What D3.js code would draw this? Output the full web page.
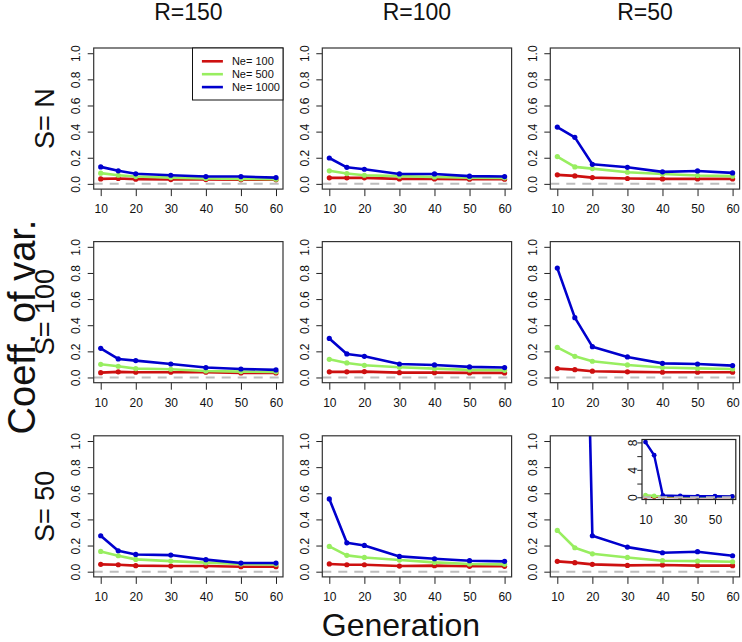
<!DOCTYPE html>
<html>
<head>
<meta charset="utf-8">
<script src="https://cdn.jsdelivr.net/npm/d3@7"></script>
<style>
  html, body { margin: 0; padding: 0; background: #fff; }
  svg { display: block; font-family: "Liberation Sans", Arial, Helvetica, sans-serif; }
</style>
</head>
<body>
<svg id="chart" width="742" height="642"></svg>
<script>
// ---------------- DATA ----------------
const generations = [10, 15, 20, 30, 40, 50, 60];
const xTickValues = [10, 20, 30, 40, 50, 60];
const yTickValues = [0, 0.2, 0.4, 0.6, 0.8, 1.0];
const insetYTicks = [0, 2, 4, 6, 8];
const insetYLabels = [0, 4, 8];
const insetXLabels = [10, 30, 50];
const colTitles = ["R=150", "R=100", "R=50"];
const rowTitles = ["S= N", "S= 100", "S= 50"];
const seriesNames = ["Ne= 100", "Ne= 500", "Ne= 1000"];
const seriesColors = ["#cd1010", "#98ee60", "#0000cd"];

// each panel: [Ne=100, Ne=500, Ne=1000]
const sN_r150 = [
  [0.038, 0.041, 0.036, 0.033, 0.033, 0.031, 0.031],
  [0.082, 0.066, 0.056, 0.048, 0.041, 0.038, 0.036],
  [0.130, 0.100, 0.077, 0.066, 0.056, 0.056, 0.048]
];
const sN_r100 = [
  [0.046, 0.046, 0.046, 0.038, 0.038, 0.036, 0.036],
  [0.100, 0.079, 0.066, 0.059, 0.053, 0.048, 0.046],
  [0.198, 0.127, 0.112, 0.076, 0.076, 0.059, 0.056]
];
const sN_r50 = [
  [0.069, 0.061, 0.048, 0.041, 0.038, 0.038, 0.038],
  [0.209, 0.130, 0.117, 0.089, 0.076, 0.064, 0.059],
  [0.435, 0.356, 0.150, 0.127, 0.092, 0.099, 0.084]
];
const s100_r150 = [
  [0.037, 0.043, 0.040, 0.040, 0.040, 0.035, 0.035],
  [0.101, 0.086, 0.068, 0.063, 0.050, 0.045, 0.043],
  [0.223, 0.142, 0.129, 0.103, 0.076, 0.065, 0.058]
];
const s100_r100 = [
  [0.043, 0.043, 0.045, 0.037, 0.037, 0.035, 0.035],
  [0.139, 0.111, 0.093, 0.078, 0.068, 0.058, 0.055],
  [0.299, 0.180, 0.162, 0.103, 0.096, 0.081, 0.076]
];
const s100_r50 = [
  [0.068, 0.060, 0.048, 0.043, 0.040, 0.040, 0.040],
  [0.230, 0.162, 0.124, 0.096, 0.076, 0.070, 0.065],
  [0.837, 0.458, 0.236, 0.157, 0.108, 0.103, 0.091]
];
const s50_r150 = [
  [0.056, 0.053, 0.046, 0.043, 0.043, 0.038, 0.038],
  [0.155, 0.122, 0.094, 0.081, 0.069, 0.059, 0.056],
  [0.275, 0.160, 0.132, 0.127, 0.092, 0.066, 0.066]
];
const s50_r100 = [
  [0.059, 0.053, 0.053, 0.043, 0.046, 0.041, 0.041],
  [0.193, 0.125, 0.109, 0.089, 0.071, 0.059, 0.056],
  [0.557, 0.221, 0.201, 0.117, 0.099, 0.084, 0.079]
];
const s50_r50 = [
  [0.079, 0.069, 0.056, 0.048, 0.051, 0.046, 0.046],
  [0.316, 0.183, 0.137, 0.109, 0.084, 0.081, 0.076],
  [8.05, 6.13, 0.275, 0.188, 0.145, 0.153, 0.122]
];
const panels = [
  [sN_r150, sN_r100, sN_r50],
  [s100_r150, s100_r100, s100_r50],
  [s50_r150, s50_r100, s50_r50]
];

// ---------------- LAYOUT ----------------
const svg = d3.select("#chart");
const FONT = 12;
const LEGEND_FONT = 11;
const colLeft = [93.7, 322.3, 550.3];
const plotW = 189.3;
const rowTop = [48.0, 241.6, 435.8];
const plotH = 141.1;

function fmtY(d) { return d3.format(".1f")(d); }

function drawSeries(g, data, x, y, lw, r) {
  const line = d3.line().x((d, i) => x(generations[i])).y(d => y(d));
  data.forEach((vals, si) => {
    g.append("path")
      .attr("d", line(vals))
      .attr("fill", "none")
      .attr("stroke", seriesColors[si])
      .attr("stroke-width", lw)
      .attr("stroke-linejoin", "round");
    g.selectAll(null).data(vals).enter().append("circle")
      .attr("cx", (d, i) => x(generations[i]))
      .attr("cy", d => y(d))
      .attr("r", r)
      .attr("fill", seriesColors[si]);
  });
}

function styleAxis(ax) {
  ax.select(".domain").remove();
  ax.selectAll("line").attr("stroke", "#222").attr("stroke-width", 1);
  ax.selectAll("text").attr("font-size", FONT).attr("fill", "#111")
    .attr("font-family", '"Liberation Sans", Arial, sans-serif');
}

let clipId = 0;
for (let r = 0; r < 3; r++) {
  for (let c = 0; c < 3; c++) {
    const L = colLeft[c], T = rowTop[r];
    const x = d3.scaleLinear().domain([8, 62]).range([L, L + plotW]);
    const y = d3.scaleLinear().domain([-0.04, 1.04]).range([T + plotH, T]);

    const cid = "clip" + (clipId++);
    svg.append("clipPath").attr("id", cid).append("rect")
      .attr("x", L).attr("y", T).attr("width", plotW).attr("height", plotH);

    const g = svg.append("g").attr("clip-path", `url(#${cid})`);
    drawSeries(g, panels[r][c], x, y, 2.6, 2.6);
    // reference dashed line at 0
    g.append("line")
      .attr("x1", L).attr("x2", L + plotW)
      .attr("y1", y(0)).attr("y2", y(0))
      .attr("stroke", "#bdbdbd").attr("stroke-width", 2)
      .attr("stroke-dasharray", "9,7");

    // x axis
    const ax = svg.append("g").attr("transform", `translate(0,${T + plotH})`)
      .call(d3.axisBottom(x).tickValues(xTickValues).tickSize(7).tickPadding(8.5).tickSizeOuter(0));
    styleAxis(ax);

    // y axis
    const ay = svg.append("g").attr("transform", `translate(${L},0)`)
      .call(d3.axisLeft(y).tickValues(yTickValues).tickFormat(fmtY).tickSize(6).tickSizeOuter(0));
    styleAxis(ay);
    ay.selectAll("text")
      .attr("x", 0).attr("dy", "0.35em").attr("text-anchor", "middle")
      .attr("transform", "translate(-17.5,0) rotate(-90)");

    // box
    svg.append("rect").attr("x", L).attr("y", T).attr("width", plotW).attr("height", plotH)
      .attr("fill", "none").attr("stroke", "#333").attr("stroke-width", 1.2);
  }
}

// ---------------- LEGEND (panel 1) ----------------
{
  const L = colLeft[0], T = rowTop[0];
  const lx = L + plotW - 90.5, lw = 90.5, lh = 52;
  const lg = svg.append("g");
  lg.append("rect").attr("x", lx).attr("y", T).attr("width", lw).attr("height", lh)
    .attr("fill", "#fff").attr("stroke", "#111").attr("stroke-width", 1);
  seriesNames.forEach((name, i) => {
    const yy = T + 13.3 + i * 12.9;
    lg.append("line").attr("x1", lx + 9.4).attr("x2", lx + 30.4)
      .attr("y1", yy).attr("y2", yy)
      .attr("stroke", seriesColors[i]).attr("stroke-width", 2.6);
    lg.append("text").attr("x", lx + 39.4).attr("y", yy).attr("dy", "0.36em")
      .attr("font-size", LEGEND_FONT).attr("fill", "#111").text(name);
  });
}

// ---------------- INSET (panel 9) ----------------
{
  const IL = 642, IR = 735.8, IT = 439.5, IB = 499.5;
  const x = d3.scaleLinear().domain([8, 62]).range([IL, IR]);
  const maxV = 8.1;
  const y = d3.scaleLinear().domain([-0.04 * maxV, maxV * 1.04]).range([IB, IT]);
  svg.append("rect").attr("x", IL).attr("y", IT).attr("width", IR - IL).attr("height", IB - IT)
    .attr("fill", "#fff");
  svg.append("clipPath").attr("id", "clipInset").append("rect")
    .attr("x", IL).attr("y", IT).attr("width", IR - IL).attr("height", IB - IT);
  const g = svg.append("g").attr("clip-path", "url(#clipInset)");
  drawSeries(g, s50_r50, x, y, 2.4, 2.4);
  g.append("line")
    .attr("x1", IL).attr("x2", IR).attr("y1", y(0)).attr("y2", y(0))
    .attr("stroke", "#bdbdbd").attr("stroke-width", 2).attr("stroke-dasharray", "9,7");

  const ax = svg.append("g").attr("transform", `translate(0,${IB})`)
    .call(d3.axisBottom(x).tickValues(xTickValues).tickSize(4.7).tickPadding(11.5)
      .tickFormat(d => insetXLabels.includes(d) ? d : "").tickSizeOuter(0));
  styleAxis(ax);
  const ay = svg.append("g").attr("transform", `translate(${IL},0)`)
    .call(d3.axisLeft(y).tickValues(insetYTicks).tickSize(4.7)
      .tickFormat(d => insetYLabels.includes(d) ? d : "").tickSizeOuter(0));
  styleAxis(ay);
  ay.selectAll("text")
    .attr("x", 0).attr("dy", "0.35em").attr("text-anchor", "middle")
    .attr("transform", "translate(-9.5,0) rotate(-90)");
  svg.append("rect").attr("x", IL).attr("y", IT).attr("width", IR - IL).attr("height", IB - IT)
    .attr("fill", "none").attr("stroke", "#222").attr("stroke-width", 1.2);
}

// ---------------- TITLES ----------------
colTitles.forEach((t, i) => {
  svg.append("text").attr("x", colLeft[i] + plotW / 2).attr("y", 19.5)
    .attr("text-anchor", "middle").attr("font-size", 23).attr("fill", "#111").text(t);
});
rowTitles.forEach((t, i) => {
  const cy = rowTop[i] + plotH / 2;
  svg.append("text").attr("transform", `translate(54,${cy}) rotate(-90)`)
    .attr("text-anchor", "middle").attr("font-size", 27).attr("fill", "#111").text(t);
});
svg.append("text").attr("transform", "translate(35,327) rotate(-90)")
  .attr("text-anchor", "middle").attr("font-size", 38).attr("fill", "#111").text("Coeff. of var.");
svg.append("text").attr("x", 401).attr("y", 636)
  .attr("text-anchor", "middle").attr("font-size", 32).attr("fill", "#111").text("Generation");
</script>
</body>
</html>
